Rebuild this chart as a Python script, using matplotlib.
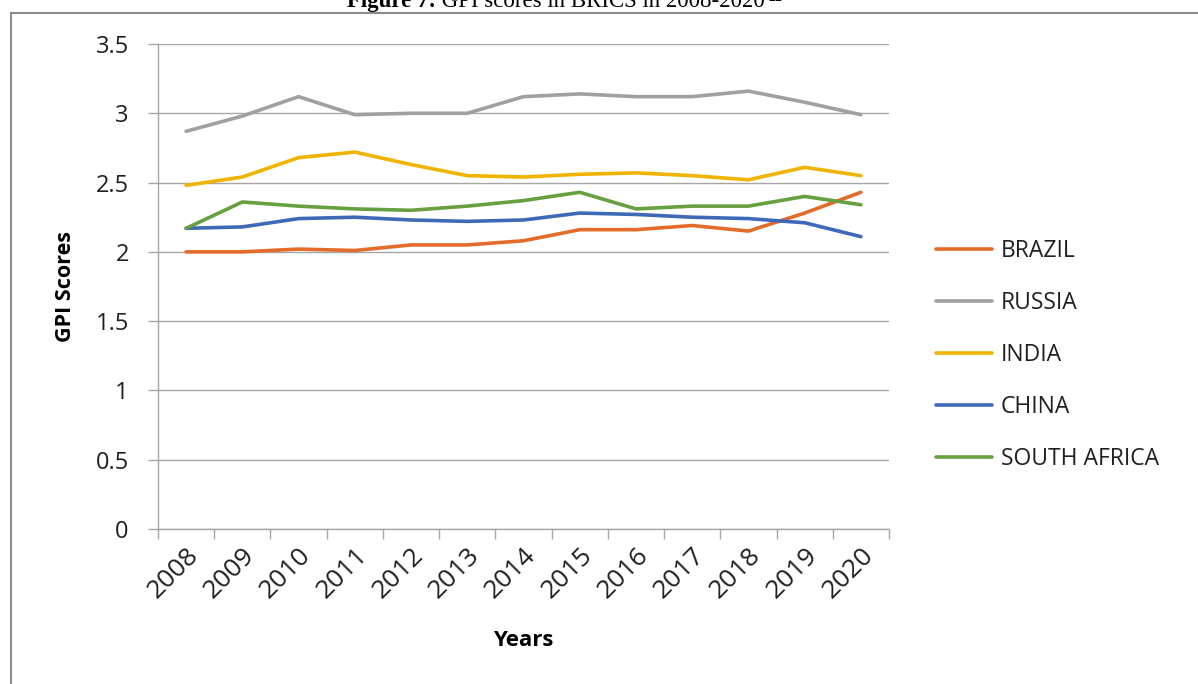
import matplotlib.pyplot as plt
from matplotlib.lines import Line2D

# GPI scores per country, 2008-2020
years = ['2008', '2009', '2010', '2011', '2012', '2013', '2014',
         '2015', '2016', '2017', '2018', '2019', '2020']
brazil = [2.00, 2.00, 2.02, 2.01, 2.05, 2.05, 2.08, 2.16, 2.16, 2.19, 2.15, 2.28, 2.43]
russia = [2.87, 2.98, 3.12, 2.99, 3.00, 3.00, 3.12, 3.14, 3.12, 3.12, 3.16, 3.08, 2.99]
india = [2.48, 2.54, 2.68, 2.72, 2.63, 2.55, 2.54, 2.56, 2.57, 2.55, 2.52, 2.61, 2.55]
china = [2.17, 2.18, 2.24, 2.25, 2.23, 2.22, 2.23, 2.28, 2.27, 2.25, 2.24, 2.21, 2.11]
south_africa = [2.17, 2.36, 2.33, 2.31, 2.30, 2.33, 2.37, 2.43, 2.31, 2.33, 2.33, 2.40, 2.34]

series = [
    ('BRAZIL', brazil, '#E46C2A'),
    ('RUSSIA', russia, '#A0A0A0'),
    ('INDIA', india, '#F0B400'),
    ('CHINA', china, '#3E68B8'),
    ('SOUTH AFRICA', south_africa, '#67A03F'),
]

plt.rcParams['font.family'] = ['Open Sans', 'DejaVu Sans']
grid_col = '#A6A6A6'
txt_col = '#202020'

W, H = 1198, 684
fig = plt.figure(figsize=(W / 100, H / 100), dpi=100)
ax = fig.add_axes([158 / W, 1 - 529 / H, (889 - 158) / W, (529 - 44) / H])

x = list(range(len(years)))
for name, vals, col in series:
    ax.plot(x, vals, color=col, lw=2.6, label=name, solid_capstyle='round')

ax.set_ylim(0, 3.5)
ax.set_yticks([0, 0.5, 1, 1.5, 2, 2.5, 3, 3.5])
ax.set_yticklabels(['0', '0.5', '1', '1.5', '2', '2.5', '3', '3.5'])
ax.set_xlim(-0.5, len(years) - 0.5)

# tick marks on category boundaries, labels centred under each year
ax.set_xticks([i - 0.5 for i in range(len(years) + 1)])
ax.set_xticklabels([])
ax.set_xticks(x, minor=True)
ax.set_xticklabels(years, minor=True, rotation=45, ha='right',
                   rotation_mode='anchor', fontsize=19, color=txt_col)
ax.tick_params(axis='x', which='major', length=7, width=1, color=grid_col)
ax.tick_params(axis='x', which='minor', length=0, pad=10)
ax.tick_params(axis='y', length=7, width=1, color=grid_col, labelsize=17,
               labelcolor=txt_col, pad=14)

ax.grid(axis='y', color=grid_col, lw=1)
ax.set_axisbelow(True)
for side in ['top', 'right']:
    ax.spines[side].set_visible(False)
for side in ['left', 'bottom']:
    ax.spines[side].set_color(grid_col)
    ax.spines[side].set_linewidth(1)

ax.set_xlabel('Years', fontsize=16, fontweight='bold', labelpad=19)
ax.set_ylabel('GPI Scores', fontsize=15.5, fontweight='bold', labelpad=14)

ax.legend(loc='center left', bbox_to_anchor=(936 / W, 1 - 355 / H),
          bbox_transform=fig.transFigure, frameon=False, fontsize=16.5,
          handlelength=2.45, handletextpad=0.38, labelspacing=1.22,
          borderaxespad=0, borderpad=0)
for t in ax.get_legend().get_texts():
    t.set_color(txt_col)

# page frame around the figure
fig.add_artist(Line2D([11 / W, 1], [1 - 13 / H, 1 - 13 / H],
                      transform=fig.transFigure, color='#8C8C8C', lw=1.5))
fig.add_artist(Line2D([11 / W, 11 / W], [0, 1 - 13 / H],
                      transform=fig.transFigure, color='#8C8C8C', lw=1.5))

# caption sitting above the frame
serif = ['Liberation Serif', 'DejaVu Serif']
t1 = fig.text(347 / W, 1 - 7 / H, 'Figure 7:', fontsize=16.5, fontweight='bold',
              family=serif, va='baseline')
fig.canvas.draw()
bb = t1.get_window_extent()
t2 = fig.text(bb.x1 / W, 1 - 7 / H, ' GPI scores in BRICS in 2008-2020',
              fontsize=16.5, family=serif, va='baseline')
fig.canvas.draw()
bb = t2.get_window_extent()
fig.text(bb.x1 / W + 0.003, 1 - 1 / H, '22', fontsize=10, family=serif,
         va='baseline')

fig.savefig('out.png', dpi=100)
